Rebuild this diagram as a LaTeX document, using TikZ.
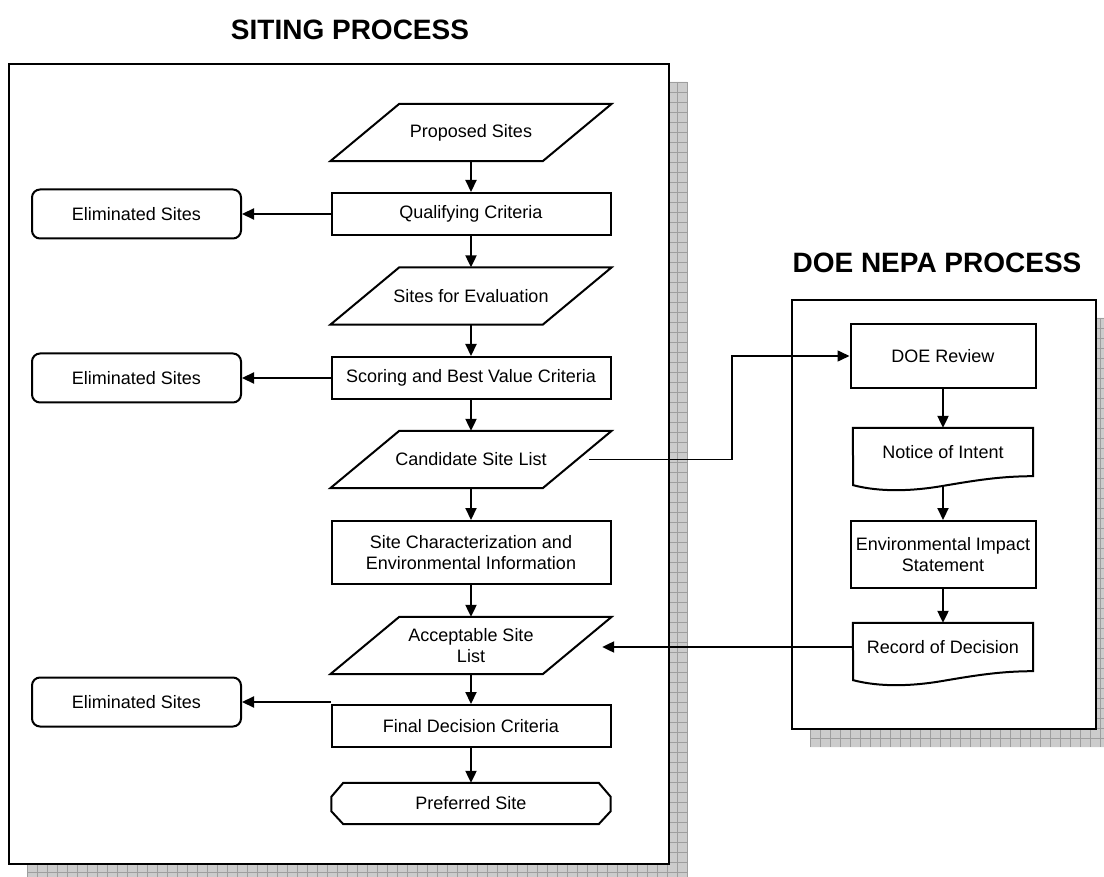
\documentclass[tikz,border=0pt]{standalone}
\usepackage{fontspec}
\setmainfont{Liberation Sans}
\usetikzlibrary{arrows.meta}
\tikzset{
  sitebox/.style={draw,line width=2pt,minimum width=279pt,minimum height=42pt,align=center,inner sep=1pt},
  elimbox/.style={draw,line width=2pt,rounded corners=8pt,minimum width=209pt,minimum height=49pt},
  iobox/.style={minimum width=212pt,minimum height=57pt,align=center,inner sep=0pt},
  docbox/.style={minimum width=180pt,minimum height=48pt,inner sep=0pt},
  termbox/.style={minimum width=279pt,minimum height=41pt,inner sep=0pt},
  outl/.style={line width=2pt,line join=miter},
  arr/.style={line width=2.2pt,-{Triangle[length=12pt,width=11pt]}},
  panel/.style={draw,line width=2.6pt,fill=white},
  panelshade/.style={fill=black!20},
  shadeline/.style={draw=black!38,line width=0.7pt},
  heading/.style={font=\bfseries\fontsize{28}{32}\selectfont}
}
\begin{document}
\begin{tikzpicture}[x=1pt,y=-1pt,font=\fontsize{18}{21.5}\selectfont]
\useasboundingbox (0,0) rectangle (1104,877);
% shadows of the two panels
\fill[panelshade] (27,82) rectangle (687,882) (810,318) rectangle (1114,747);
\foreach \x in {27,37,...,687} \draw[shadeline] (\x,82) -- (\x,882);
\foreach \y in {82,92,...,882} \draw[shadeline] (27,\y) -- (687,\y);
\foreach \x in {810,820,...,1114} \draw[shadeline] (\x,318) -- (\x,747);
\foreach \y in {318,328,...,747} \draw[shadeline] (810,\y) -- (1114,\y);
\draw[panel] (9,64) rectangle (669,864);
\draw[panel] (792,300) rectangle (1096,729);
\node[heading] (sitetitle) at (350,30) {SITING PROCESS};
\node[heading] (nepatitle) at (937,263) {DOE NEPA PROCESS};
% siting column
\node[iobox] (prop) at (471,132.5) {Proposed Sites};
\node[sitebox] (qual) at (471,214) {Qualifying Criteria};
\node[iobox] (sfe) at (471,296) {Sites for Evaluation};
\node[sitebox] (score) at (471,378) {Scoring and Best Value Criteria};
\node[iobox] (cand) at (471,459.5) {Candidate Site List};
\node[sitebox,minimum height=63pt] (char) at (471,552.5) {Site Characterization and\\Environmental Information};
\node[iobox] (acc) at (471,645.5) {Acceptable Site\\List};
\node[sitebox] (final) at (471,726) {Final Decision Criteria};
\node[termbox] (pref) at (471,803.5) {Preferred Site};
\node[elimbox] (elim1) at (136.5,214) {Eliminated Sites};
\node[elimbox] (elim2) at (136.5,378) {Eliminated Sites};
\node[elimbox] (elim3) at (136.5,702) {Eliminated Sites};
\foreach \n in {prop,sfe,cand,acc}
  \draw[outl] ([xshift=-34.5pt]\n.south west) -- ([xshift=-34.5pt]\n.south east)
    -- ([xshift=34.5pt]\n.north east) -- ([xshift=34.5pt]\n.north west) -- cycle;
\draw[outl] ([xshift=12pt]pref.north west) -- ([xshift=-12pt]pref.north east)
  -- ([yshift=-14pt]pref.north east) -- ([yshift=13pt]pref.south east)
  -- ([xshift=-12pt]pref.south east) -- ([xshift=12pt]pref.south west)
  -- ([yshift=13pt]pref.south west) -- ([yshift=-14pt]pref.north west) -- cycle;
% nepa column
\node[sitebox,minimum width=185pt,minimum height=64pt] (review) at (943,356) {DOE Review};
\node[docbox] (noi) at (943,452) {Notice of Intent};
\node[sitebox,minimum width=185pt,minimum height=67pt] (eis) at (943,554.5) {Environmental Impact\\Statement};
\node[docbox] (rod) at (943,647) {Record of Decision};
\foreach \n in {noi,rod}
  \draw[outl] (\n.north west) -- (\n.north east) -- (\n.south east)
    .. controls +(-32,0) and +(35,-6) .. ++(-92,10)
    .. controls +(-30,5) and +(27,7) .. ++(-88,-1) -- cycle;
\coordinate (accin) at ([xshift=25pt]acc.east);
% connectors
\draw[arr] (prop.south) -- (qual.north);
\draw[arr] (qual.south) -- (sfe.north);
\draw[arr] (sfe.south) -- (score.north);
\draw[arr] (score.south) -- (cand.north);
\draw[arr] (cand.south) -- (char.north);
\draw[arr] (char.south) -- (acc.north);
\draw[arr] (acc.south) -- (final.north);
\draw[arr] (final.south) -- (pref.north);
\draw[arr] (qual.west) -- (elim1.east);
\draw[arr] (score.west) -- (elim2.east);
\draw[arr] (elim3.east -| final.west) -- (elim3.east);
\draw[arr,line width=1.6pt] ([xshift=12pt]cand.east) -- ++(143,0) |- (review.west);
\draw[arr] (review.south) -- (noi.north);
\draw[arr] ([yshift=-10pt]noi.south) -- (eis.north);
\draw[arr] (eis.south) -- (rod.north);
\draw[arr] (rod.west) -- (rod.west -| accin);
\end{tikzpicture}
\end{document}
